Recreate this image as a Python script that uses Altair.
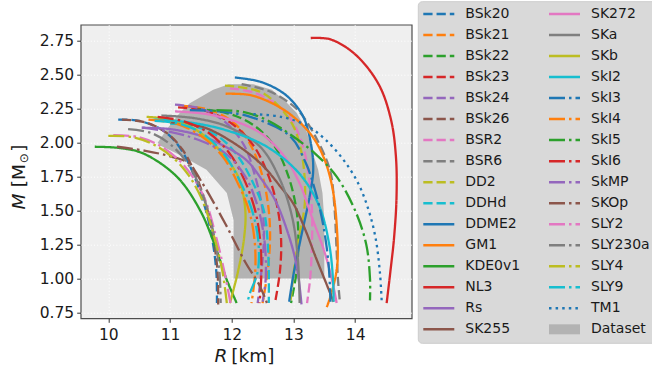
import altair as alt
import pandas as pd

# ---------------- data ----------------
NAMES = ["BSk20", "BSk21", "BSk22", "BSk23", "BSk24", "BSk26", "BSR2", "BSR6", "DD2", "DDHd",
         "DDME2", "GM1", "KDE0v1", "NL3", "Rs", "SK255", "SK272", "SKa", "SKb", "SkI2",
         "SkI3", "SkI4", "SkI5", "SkI6", "SkMP", "SKOp", "SLY2", "SLY230a", "SLY4", "SLY9", "TM1"]
TAB10 = ["#1f77b4", "#ff7f0e", "#2ca02c", "#d62728", "#9467bd",
         "#8c564b", "#e377c2", "#7f7f7f", "#bcbd22", "#17becf"]
COLORS = TAB10 + TAB10 + TAB10 + ["#1f77b4"]
STYLES = ["dashed"] * 10 + ["solid"] * 10 + ["dashdot"] * 10 + ["dotted"]

BSK20_R = [10.16, 10.5, 10.85, 11.1, 11.32, 11.55, 11.68, 11.75, 11.76]
BSK20_M = [2.17, 2.16, 2.1, 2.0, 1.83, 1.55, 1.3, 1.05, 0.82]
BSK21_R = [11.2, 11.65, 12.05, 12.32, 12.5, 12.6, 12.62, 12.58, 12.5]
BSK21_M = [2.27, 2.24, 2.14, 1.97, 1.75, 1.5, 1.28, 1.05, 0.82]
BSK22_R = [11.38, 11.9, 12.35, 12.7, 12.92, 13.05, 13.08, 13.05, 12.96]
BSK22_M = [2.25, 2.22, 2.13, 1.97, 1.75, 1.5, 1.28, 1.05, 0.82]
BSK23_R = [11.13, 11.6, 12.0, 12.35, 12.6, 12.75, 12.8, 12.78, 12.7]
BSK23_M = [2.26, 2.23, 2.14, 1.98, 1.75, 1.5, 1.28, 1.05, 0.82]
BSK24_R = [11.08, 11.5, 11.9, 12.2, 12.38, 12.5, 12.52, 12.48, 12.42]
BSK24_M = [2.28, 2.25, 2.15, 1.98, 1.75, 1.5, 1.28, 1.05, 0.82]
BSK26_R = [10.22, 10.6, 10.95, 11.2, 11.4, 11.58, 11.7, 11.77, 11.78]
BSK26_M = [2.17, 2.15, 2.07, 1.95, 1.78, 1.55, 1.3, 1.05, 0.81]
BSR2_R = [11.97, 12.35, 12.7, 12.95, 13.15, 13.25, 13.3, 13.3, 13.27, 13.22]
BSR2_M = [2.4, 2.37, 2.29, 2.18, 1.98, 1.75, 1.5, 1.25, 1.0, 0.82]
BSR6_R = [12.16, 12.6, 12.94, 13.11, 13.35, 13.59, 13.66, 13.7, 13.72, 13.75]
BSR6_M = [2.43, 2.38, 2.29, 2.22, 2.05, 1.8, 1.55, 1.2, 1.0, 0.84]
DD2_R = [11.89, 12.46, 12.78, 13.0, 13.12, 13.18, 13.18, 13.1, 13.03, 12.95]
DD2_M = [2.42, 2.375, 2.26, 2.12, 1.95, 1.75, 1.53, 1.33, 1.14, 0.82]
DDHD_R = [11.0, 11.4, 11.8, 12.1, 12.35, 12.52, 12.58, 12.6, 12.6]
DDHD_M = [2.14, 2.12, 2.04, 1.9, 1.7, 1.5, 1.28, 1.05, 0.82]
DDME2_R = [12.05, 12.45, 12.75, 12.95, 13.16, 13.28, 13.32, 13.26, 13.12, 13.0, 12.93]
DDME2_M = [2.48, 2.45, 2.39, 2.32, 2.19, 2.0, 1.8, 1.6, 1.3, 1.03, 0.83]
GM1_R = [11.9, 12.3, 12.7, 13.0, 13.3, 13.5, 13.63, 13.7, 13.71, 13.62, 13.54]
GM1_M = [2.36, 2.35, 2.28, 2.19, 2.05, 1.88, 1.67, 1.4, 1.1, 0.9, 0.79]
KDE0V1_R = [9.78, 10.2, 10.57, 11.11, 11.49, 11.73, 11.92, 12.08]
KDE0V1_M = [1.97, 1.96, 1.92, 1.75, 1.5, 1.24, 0.99, 0.82]
NL3_R = [13.28, 13.6, 14.0, 14.38, 14.58, 14.66, 14.67, 14.63, 14.57, 14.51]
NL3_M = [2.77, 2.76, 2.65, 2.43, 2.17, 1.9, 1.6, 1.3, 1.05, 0.82]
RS_R = [10.54, 11.0, 11.5, 11.9, 12.24, 12.5, 12.7, 12.9, 13.05, 13.13]
RS_M = [2.11, 2.1, 2.05, 1.97, 1.87, 1.72, 1.58, 1.35, 1.1, 0.81]
SK255_R = [11.0, 11.5, 11.92, 12.46, 12.8, 13.0, 13.2, 13.35, 13.5, 13.65]
SK255_M = [2.15, 2.12, 2.03, 1.85, 1.67, 1.55, 1.35, 1.17, 1.0, 0.83]
SK272_R = [11.08, 11.6, 12.1, 12.5, 12.85, 13.1, 13.3, 13.5, 13.62, 13.7]
SK272_M = [2.23, 2.21, 2.15, 2.06, 1.9, 1.7, 1.45, 1.2, 1.0, 0.82]
SKA_R = [10.86, 11.4, 11.92, 12.46, 12.78, 12.98, 13.07, 13.1]
SKA_M = [2.2, 2.18, 2.12, 1.97, 1.73, 1.45, 1.15, 0.82]
SKB_R = [10.62, 11.0, 11.4, 11.75, 12.0, 12.13, 12.22, 12.2, 12.1, 11.97]
SKB_M = [2.19, 2.17, 2.1, 1.97, 1.83, 1.72, 1.5, 1.3, 1.05, 0.82]
SKI2_R = [10.73, 11.3, 11.92, 12.57, 13.1, 13.42, 13.58, 13.64, 13.65]
SKI2_M = [2.17, 2.15, 2.09, 1.97, 1.77, 1.53, 1.25, 1.0, 0.83]
SKI3_R = [11.32, 11.8, 12.3, 12.94, 13.2, 13.35, 13.48, 13.57, 13.6]
SKI3_M = [2.24, 2.23, 2.19, 2.05, 1.85, 1.65, 1.4, 1.1, 0.83]
SKI4_R = [10.65, 11.1, 11.5, 11.85, 12.1, 12.28, 12.37, 12.38, 12.32]
SKI4_M = [2.17, 2.14, 2.05, 1.9, 1.7, 1.5, 1.28, 1.05, 0.82]
SKI5_R = [11.75, 12.2, 12.6, 12.95, 13.35, 13.7, 14.0, 14.18, 14.24, 14.24]
SKI5_M = [2.24, 2.225, 2.16, 2.06, 1.92, 1.75, 1.5, 1.25, 1.0, 0.84]
SKI6_R = [10.8, 11.2, 11.6, 11.95, 12.2, 12.38, 12.46, 12.48, 12.45]
SKI6_M = [2.19, 2.16, 2.08, 1.93, 1.73, 1.5, 1.28, 1.05, 0.82]
SKMP_R = [10.55, 11.0, 11.4, 11.9, 12.22, 12.42, 12.53, 12.55, 12.5]
SKMP_M = [2.11, 2.08, 2.03, 1.92, 1.75, 1.53, 1.28, 1.0, 0.83]
SKOP_R = [10.14, 10.6, 11.0, 11.3, 11.5, 11.9, 12.22, 12.45, 12.57]
SKOP_M = [1.97, 1.94, 1.9, 1.85, 1.72, 1.4, 1.12, 0.95, 0.82]
SLY2_R = [10.08, 10.5, 10.9, 11.25, 11.55, 11.75, 11.88, 11.98]
SLY2_M = [2.055, 2.04, 1.96, 1.82, 1.6, 1.3, 1.05, 0.82]
SLY230A_R = [10.32, 10.7, 11.05, 11.35, 11.58, 11.72, 11.8, 11.82]
SLY230A_M = [2.1, 2.07, 1.97, 1.8, 1.55, 1.3, 1.05, 0.82]
SLY4_R = [10.0, 10.4, 10.8, 11.2, 11.5, 11.72, 11.85, 11.92]
SLY4_M = [2.05, 2.04, 1.97, 1.82, 1.6, 1.3, 1.05, 0.82]
SLY9_R = [10.75, 11.15, 11.55, 11.9, 12.15, 12.33, 12.43, 12.42, 12.3, 12.25]
SLY9_M = [2.16, 2.14, 2.06, 1.9, 1.7, 1.5, 1.28, 1.05, 0.9, 0.82]
TM1_R = [12.35, 12.8, 13.2, 13.5, 13.8, 14.05, 14.22, 14.33, 14.4, 14.43]
TM1_M = [2.21, 2.19, 2.13, 2.03, 1.88, 1.7, 1.5, 1.3, 1.05, 0.83]

CURVE_R = [BSK20_R, BSK21_R, BSK22_R, BSK23_R, BSK24_R, BSK26_R, BSR2_R, BSR6_R, DD2_R, DDHD_R,
           DDME2_R, GM1_R, KDE0V1_R, NL3_R, RS_R, SK255_R, SK272_R, SKA_R, SKB_R, SKI2_R,
           SKI3_R, SKI4_R, SKI5_R, SKI6_R, SKMP_R, SKOP_R, SLY2_R, SLY230A_R, SLY4_R, SLY9_R, TM1_R]
CURVE_M = [BSK20_M, BSK21_M, BSK22_M, BSK23_M, BSK24_M, BSK26_M, BSR2_M, BSR6_M, DD2_M, DDHD_M,
           DDME2_M, GM1_M, KDE0V1_M, NL3_M, RS_M, SK255_M, SK272_M, SKA_M, SKB_M, SKI2_M,
           SKI3_M, SKI4_M, SKI5_M, SKI6_M, SKMP_M, SKOP_M, SLY2_M, SLY230A_M, SLY4_M, SLY9_M, TM1_M]

# "Dataset" band: for each mass, left and right radius
BAND_M = [1.0, 1.43, 1.63, 1.8, 1.9, 1.98, 2.0, 2.1, 2.22, 2.29, 2.39, 2.43]
BAND_L = [12.03, 12.03, 11.92, 11.59, 11.2, 10.84, 10.8, 10.95, 11.16, 11.32, 11.7, 11.95]
BAND_R = [13.5, 13.5, 13.47, 13.4, 13.33, 13.28, 13.27, 13.2, 13.05, 12.9, 12.65, 12.35]

X_TICKS = [10, 11, 12, 13, 14]
Y_TICKS = [0.75, 1.0, 1.25, 1.5, 1.75, 2.0, 2.25, 2.5, 2.75]

# ---------------- styling ----------------
FONT = "DejaVu Sans"
TXT = "#1a1a1a"
BAND_COLOR = "#b3b3b3"
DASH_DOMAIN = ["dashed", "solid", "dashdot", "dotted"]
DASH_RANGE = [[9.25, 4], [1, 0], [16, 4, 2.5, 4], [2.5, 4.1]]
LW = 2.3

rows = []
for name, color, style, rs, ms in zip(NAMES, COLORS, STYLES, CURVE_R, CURVE_M):
    for k, (r, m) in enumerate(zip(rs, ms)):
        rows.append({"name": name, "color": color, "style": style, "R": r, "M": m, "k": k})
curves = pd.DataFrame(rows)
band = pd.DataFrame({"M": BAND_M, "L": BAND_L, "Rr": BAND_R})

xscale = alt.Scale(domain=[9.552, 14.916], nice=False, zero=False)
yscale = alt.Scale(domain=[0.708, 2.868], nice=False, zero=False)
common_axis = dict(grid=True, gridColor="white", gridDash=[1, 2.2], gridWidth=1, domain=False,
                   tickSize=4, tickColor="#333333", tickWidth=1, labelFont=FONT,
                   labelFontSize=15.5, labelColor=TXT, title=None)
xaxis = alt.Axis(values=X_TICKS, format="d", labelPadding=5, **common_axis)
yaxis = alt.Axis(values=Y_TICKS, format=".2f", labelPadding=3, **common_axis)
dash = alt.StrokeDash("style:N", scale=alt.Scale(domain=DASH_DOMAIN, range=DASH_RANGE), legend=None)

area = alt.Chart(band).mark_area(orient="horizontal", color=BAND_COLOR, opacity=1).encode(
    y=alt.Y("M:Q", scale=yscale, axis=yaxis),
    x=alt.X("L:Q", scale=xscale, axis=xaxis),
    x2="Rr:Q",
)
lines = alt.Chart(curves).mark_line(strokeWidth=LW, interpolate="catmull-rom").encode(
    x=alt.X("R:Q", scale=xscale, axis=xaxis),
    y=alt.Y("M:Q", scale=yscale, axis=yaxis),
    color=alt.Color("color:N", scale=None),
    detail="name:N",
    strokeDash=dash,
    order="k:Q",
)

one = pd.DataFrame({"a": [0]})
def label(text, x, y, size=18.5, italic=False, angle=0, align="center", baseline="alphabetic"):
    kw = dict(text=text, font=FONT, fontSize=size, color=TXT, align=align, baseline=baseline)
    if italic:
        kw["fontStyle"] = "italic"
    if angle:
        kw["angle"] = angle
    return alt.Chart(one).mark_text(**kw).encode(x=alt.value(x), y=alt.value(y))

titles = [
    label("R", 140.3, 336.8, italic=True),
    label("[km]", 150.6, 336.8, align="left"),
    label("M", -61.7, 176.8, italic=True, angle=270, baseline="middle"),
    label("[M", -61.7, 151.0, angle=270, baseline="middle"),
    label("⊙", -56.5, 133.5, size=12, angle=270, baseline="middle"),
    label("]", -61.7, 123.5, angle=270, baseline="middle"),
]

main = alt.layer(area, lines, *titles)

# ---------------- legend ----------------
leg = pd.DataFrame({"name": NAMES, "color": COLORS, "style": STYLES,
                    "col": [i // 16 for i in range(len(NAMES))],
                    "row": [i % 16 for i in range(len(NAMES))]})
leg_ds = pd.DataFrame({"name": ["Dataset"], "col": [1], "row": [15]})
lx = alt.Scale(domain=[0, 1], range=[342.6, 468.3])
ly = alt.Scale(domain=[0, 15], range=[-10.7, 304.6])

frame = alt.Chart(one).mark_rect(fill="#d9d9d9", stroke="#cccccc", strokeWidth=1, cornerRadius=4).encode(
    x=alt.value(337.6), x2=alt.value(578), y=alt.value(-23), y2=alt.value(318.6))
leg_lines = alt.Chart(leg).mark_rule(strokeWidth=LW + 0.2, x2Offset=31).encode(
    x=alt.X("col:Q", scale=lx, axis=None), x2="col:Q",
    y=alt.Y("row:Q", scale=ly, axis=None),
    color=alt.Color("color:N", scale=None),
    strokeDash=dash,
)
leg_band = alt.Chart(leg_ds).mark_rule(strokeWidth=10, x2Offset=31, color=BAND_COLOR).encode(
    x=alt.X("col:Q", scale=lx, axis=None), x2="col:Q",
    y=alt.Y("row:Q", scale=ly, axis=None),
)
leg_text = alt.Chart(pd.concat([leg[["name", "col", "row"]], leg_ds])).mark_text(
    align="left", baseline="middle", dx=42, font=FONT, fontSize=14, color=TXT).encode(
    x=alt.X("col:Q", scale=lx, axis=None),
    y=alt.Y("row:Q", scale=ly, axis=None),
    text="name:N",
)
legend = alt.layer(frame, leg_lines, leg_band, leg_text)

chart = alt.layer(main, legend).resolve_scale(x="independent", y="independent").properties(
    width=331, height=293.6,
    autosize=alt.AutoSizeParams(type="none"),
    padding={"left": 80.7, "top": 24.7, "right": 240.3, "bottom": 53.7},
    background="white",
).configure_view(fill="#efefef", stroke="#4d4d4d", strokeWidth=1.2)

chart.save("out.html", embed_options={"renderer": "svg", "actions": False})
